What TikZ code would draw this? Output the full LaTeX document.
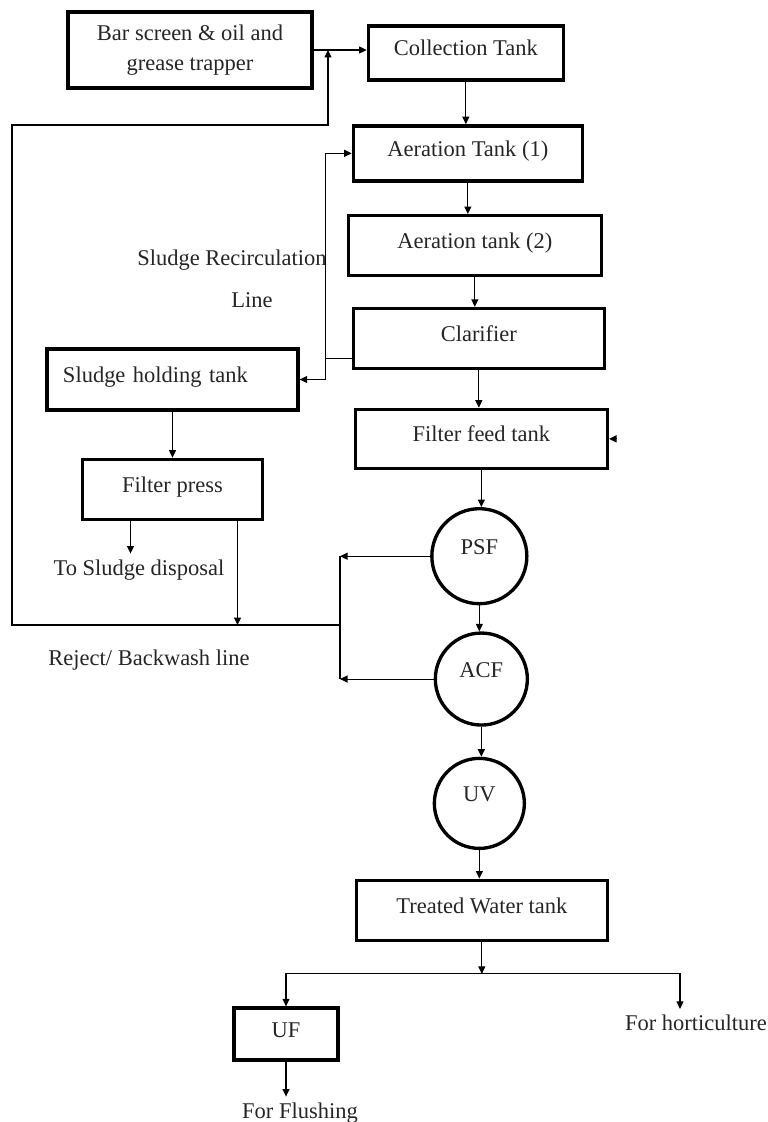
\documentclass[tikz,border=0pt]{standalone}
\usepackage{fontspec}
\setmainfont{Liberation Serif}
\usetikzlibrary{positioning,arrows.meta,calc}

\begin{document}
\begin{tikzpicture}[
    x=0.2mm, y=-0.2mm,
    font=\fontsize{12.8}{17}\selectfont,
    unit/.style={draw, line width=1.9pt, align=center, text=black!85},
    tank/.style={unit, text height=0.32cm, text depth=0.2cm},
    filt/.style={draw, circle, line width=1.9pt, text=black!85, text height=0.32cm, text depth=0.4cm},
    arrow/.style={-{Triangle[length=1.5mm, width=1.4mm]}, line width=0.6pt},
    pipe/.style={line width=0.6pt},
    note/.style={text=black!85}
]
\useasboundingbox[fill=white] (0,0) rectangle (768,1122);

% Pre-treatment
\node[unit, minimum width=4.88cm, minimum height=1.52cm] (bar) at (190,50) {Bar screen \& oil and\\grease trapper};
\node[tank, minimum width=3.9cm, minimum height=1.08cm, right=1.06cm of bar, yshift=-0.06cm] (collect) {Collection Tank};

% Biological treatment
\node[tank, minimum width=4.58cm, minimum height=1.1cm, below=0.85cm of collect, xshift=0.04cm] (aer1) {Aeration Tank (1)};
\node[tank, minimum width=5.06cm, minimum height=1.2cm, below=0.63cm of aer1, xshift=0.14cm] (aer2) {Aeration tank (2)};
\node[tank, minimum width=5.02cm, minimum height=1.2cm, below=0.59cm of aer2, xshift=0.08cm] (clar) {Clarifier};
\node[tank, minimum width=5.04cm, minimum height=1.18cm, below=0.75cm of clar, xshift=0.05cm] (feed) {Filter feed tank};

% Filtration
\node[filt, minimum size=1.9cm, below=0.74cm of feed, xshift=-0.04cm] (psf) {PSF};
\node[filt, minimum size=1.84cm, below=0.52cm of psf, xshift=0.04cm] (acf) {ACF};
\node[filt, minimum size=1.8cm, below=0.6cm of acf, xshift=-0.04cm] (uv) {UV};
\node[tank, minimum width=5.02cm, minimum height=1.2cm, below=0.57cm of uv, xshift=0.05cm] (treated) {Treated Water tank};

% Sludge handling
\node[unit, minimum width=5.02cm, minimum height=1.22cm, text width=4.38cm, align=left, text height=0.32cm, text depth=0.2cm] (sludge) at (172.5,379.5) {Sludge holding tank};
\node[tank, minimum width=3.6cm, minimum height=1.2cm, below=0.92cm of sludge] (press) {Filter press};
\node[note] (disposal) at (139,570) {To Sludge disposal};

% Reuse
\node[tank, minimum width=2.08cm, minimum height=1.04cm] (uf) at (286,1034) {UF};
\node[note] (flush) at (300,1113) {For Flushing};
\node[note] (horti) at (696,1023) {For horticulture};

% Line labels
\node[note] (recirc) at (232,260) {Sludge Recirculation};
\node[note] (recircb) at (252,300) {Line};
\node[note] (reject) at (149,660) {Reject/ Backwash line};

% Main flow
\draw[arrow] (bar.east) -- (bar.east -| collect.west);
\draw[arrow] (collect.south) -- (collect.south |- aer1.north);
\draw[arrow] (aer1.south) -- (aer1.south |- aer2.north);
\draw[arrow] (aer2.south) -- (aer2.south |- clar.north);
\draw[arrow] (clar.south) -- (clar.south |- feed.north);
\draw[arrow] (feed.south) -- (feed.south |- psf.north);
\draw[arrow] (psf.south) -- (psf.south |- acf.north);
\draw[arrow] (acf.south) -- (acf.south |- uv.north);
\draw[arrow] (uv.south) -- (uv.south |- treated.north);
\draw[arrow] ([xshift=0.14cm]feed.east) -- (feed.east);

% Sludge recirculation
\coordinate (rc) at ([xshift=-0.52cm, yshift=-0.4cm]clar.west);
\draw[arrow] (rc -| clar.west) -- (rc) |- (aer1.west);
\draw[arrow] (rc) |- (sludge.east);
\draw[arrow] (sludge.south) -- (sludge.south |- press.north);
\draw[arrow] ([xshift=-0.84cm]press.south) -- ([xshift=-0.84cm]press.south |- disposal.north);

% Reject / backwash
\coordinate (bw) at (340,625);
\coordinate (ret) at (12,125);
\coordinate (rise) at (328,125);
\draw[arrow] (psf.west) -- (psf.west -| bw);
\draw[arrow] (acf.west) -- (acf.west -| bw);
\draw[pipe] (psf.west -| bw) -- (acf.west -| bw);
\draw[arrow] ([xshift=1.3cm]press.south) -- ([xshift=1.3cm]press.south |- bw);
\draw[arrow] (bw) -| (ret) -- (rise) -- (rise |- bar.east);

% Treated water split
\coordinate[below=0.64cm of treated] (split);
\draw[arrow] (treated.south) -- (split);
\draw[arrow] (split) -| (uf.north);
\draw[arrow] (split) -| ([xshift=-0.32cm]horti.north);
\draw[arrow] (uf.south) -- (uf.south |- flush.north);
\end{tikzpicture}
\end{document}
